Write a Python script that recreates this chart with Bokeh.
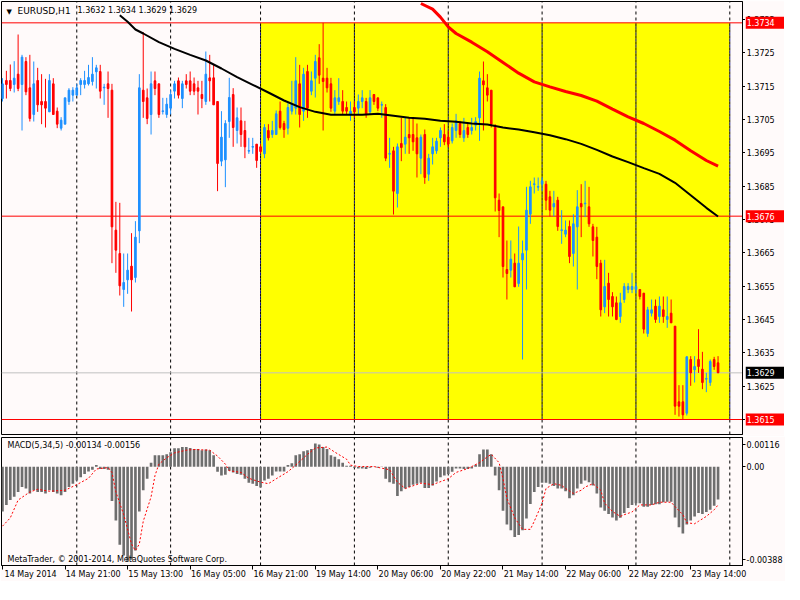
from bokeh.plotting import figure
from bokeh.layouts import column, row
from bokeh.models import Range1d, FixedTicker, Label, LinearAxis
from bokeh.core.properties import value
from bokeh.embed import file_html
from bokeh.resources import INLINE

# ---------------- data (EURUSD H1, bar index 0 = 14 May 2014 05:00) ----------------
open_ = [1.37113,1.37167,1.37167,1.37155,1.37186,1.37155,1.37224,1.37145,1.37065,1.37167,
1.37104,1.37104,1.37073,1.37157,1.37075,1.37024,1.37036,1.37104,1.37123,1.37123,
1.37155,1.37155,1.37157,1.37164,1.37193,1.37194,1.37145,1.37157,1.37138,1.36718,
1.36648,1.36540,1.36569,1.36610,1.36576,1.36716,1.37138,1.37115,1.37065,1.37166,
1.37157,1.37074,1.37065,1.37084,1.37135,1.37166,1.37113,1.37166,1.37166,1.37157,
1.37145,1.37125,1.37104,1.37175,1.37175,1.37104,1.36925,1.36929,1.37044,1.37125,
1.37017,1.37046,1.37017,1.36955,1.36967,1.36976,1.36968,1.36947,1.37017,1.37005,
1.37005,1.37075,1.37038,1.37024,1.37075,1.37084,1.37157,1.37075,1.37194,1.37135,
1.37174,1.37235,1.37174,1.37174,1.37157,1.37075,1.37104,1.37104,1.37086,1.37063,
1.37086,1.37084,1.37104,1.37104,1.37073,1.37125,1.37115,1.37093,1.37086,1.36946,
1.36956,1.36828,1.36978,1.36976,1.37005,1.37005,1.36995,1.36934,1.37005,1.36886,
1.36947,1.36956,1.36995,1.37005,1.36997,1.36986,1.37017,1.37038,1.36995,1.37026,
1.37017,1.37033,1.37055,1.37166,1.37145,1.37138,1.37026,1.36808,1.36788,1.36600,
1.36598,1.36619,1.36558,1.36629,1.36658,1.36766,1.36855,1.36847,1.36856,1.36856,
1.36818,1.36788,1.36808,1.36717,1.36706,1.36729,1.36648,1.36728,1.36798,1.36797,
1.36788,1.36728,1.36697,1.36619,1.36488,1.36559,1.36519,1.36500,1.36459,1.36510,
1.36540,1.36540,1.36540,1.36540,1.36529,1.36408,1.36469,1.36490,1.36459,1.36479,
1.36450,1.36469,1.36430,1.36203,1.36203,1.36169,1.36330,1.36299,1.36330,1.36301,
1.36271,1.36261,1.36330,1.36320]
high_ = [1.37174,1.37196,1.37215,1.37225,1.37305,1.37244,1.37237,1.37244,1.37224,1.37205,
1.37186,1.37172,1.37186,1.37174,1.37086,1.37057,1.37115,1.37144,1.37147,1.37157,
1.37174,1.37196,1.37214,1.37237,1.37214,1.37214,1.37157,1.37194,1.37157,1.36803,
1.36800,1.36648,1.36648,1.36709,1.36745,1.37186,1.37312,1.37143,1.37194,1.37194,
1.37157,1.37115,1.37115,1.37138,1.37166,1.37176,1.37166,1.37186,1.37194,1.37176,
1.37166,1.37166,1.37254,1.37244,1.37214,1.37104,1.37075,1.37048,1.37175,1.37144,
1.37086,1.37086,1.37046,1.36995,1.36995,1.36976,1.36976,1.37036,1.37036,1.37046,
1.37077,1.37104,1.37046,1.37099,1.37166,1.37237,1.37214,1.37205,1.37214,1.37194,
1.37244,1.37276,1.37340,1.37205,1.37175,1.37138,1.37174,1.37138,1.37104,1.37104,
1.37104,1.37125,1.37138,1.37115,1.37138,1.37125,1.37115,1.37104,1.37096,1.36995,
1.36968,1.36978,1.37055,1.37057,1.37055,1.37055,1.37038,1.37005,1.37020,1.36947,
1.36995,1.36995,1.37026,1.37036,1.37017,1.37038,1.37067,1.37046,1.37055,1.37038,
1.37055,1.37057,1.37194,1.37224,1.37186,1.37138,1.37036,1.36828,1.36788,1.36687,
1.36687,1.36648,1.36729,1.36687,1.36848,1.36866,1.36876,1.36876,1.36876,1.36866,
1.36836,1.36836,1.36818,1.36778,1.36747,1.36747,1.36766,1.36838,1.36856,1.36866,
1.36848,1.36737,1.36728,1.36629,1.36629,1.36590,1.36532,1.36519,1.36530,1.36559,
1.36559,1.36590,1.36561,1.36540,1.36529,1.36488,1.36510,1.36510,1.36519,1.36519,
1.36519,1.36510,1.36430,1.36253,1.36253,1.36340,1.36340,1.36340,1.36421,1.36353,
1.36290,1.36330,1.36338,1.36340]
low_ = [1.37104,1.37113,1.37135,1.37131,1.37135,1.37017,1.37123,1.37044,1.37044,1.37073,
1.37036,1.37026,1.37073,1.37065,1.37024,1.37017,1.37036,1.37094,1.37104,1.37123,
1.37123,1.37143,1.37152,1.37152,1.37143,1.37113,1.37094,1.37055,1.36619,1.36590,
1.36522,1.36488,1.36527,1.36474,1.36561,1.36679,1.37055,1.37036,1.37005,1.37123,
1.37055,1.37065,1.37055,1.37065,1.37113,1.37113,1.37084,1.37143,1.37123,1.37123,
1.37065,1.37084,1.37094,1.37104,1.37094,1.36835,1.36910,1.36847,1.36995,1.36968,
1.36978,1.36968,1.36934,1.36947,1.36947,1.36905,1.36947,1.36934,1.36987,1.36995,
1.37005,1.37020,1.36995,1.37005,1.37065,1.37065,1.37026,1.37046,1.37055,1.37123,
1.37116,1.37157,1.37017,1.37131,1.37073,1.37065,1.37094,1.37065,1.37065,1.37046,
1.37055,1.37065,1.37084,1.37055,1.37065,1.37094,1.37075,1.37055,1.36925,1.36905,
1.36765,1.36786,1.36925,1.36947,1.36947,1.36956,1.36876,1.36886,1.36857,1.36866,
1.36915,1.36947,1.36968,1.36973,1.36966,1.36978,1.36995,1.36995,1.36983,1.36995,
1.37005,1.37017,1.36986,1.37017,1.37104,1.37026,1.36774,1.36697,1.36576,1.36510,
1.36576,1.36548,1.36548,1.36330,1.36540,1.36737,1.36828,1.36836,1.36836,1.36778,
1.36759,1.36759,1.36716,1.36677,1.36697,1.36619,1.36609,1.36540,1.36697,1.36757,
1.36728,1.36639,1.36571,1.36459,1.36469,1.36459,1.36459,1.36448,1.36440,1.36500,
1.36529,1.36529,1.36529,1.36510,1.36408,1.36398,1.36459,1.36440,1.36440,1.36440,
1.36425,1.36440,1.36164,1.36159,1.36150,1.36162,1.36251,1.36261,1.36290,1.36241,
1.36232,1.36251,1.36299,1.36290]
close_ = [1.37157,1.37155,1.37143,1.37174,1.37143,1.37237,1.37133,1.37053,1.37157,1.37094,
1.37094,1.37084,1.37167,1.37065,1.37036,1.37048,1.37115,1.37138,1.37138,1.37145,
1.37167,1.37167,1.37176,1.37186,1.37205,1.37135,1.37147,1.37143,1.36728,1.36658,
1.36551,1.36561,1.36598,1.36569,1.36697,1.37145,1.37104,1.37053,1.37157,1.37143,
1.37065,1.37076,1.37096,1.37125,1.37157,1.37123,1.37157,1.37155,1.37135,1.37135,
1.37135,1.37113,1.37186,1.37166,1.37094,1.36918,1.36997,1.37038,1.37116,1.37026,
1.37055,1.37005,1.36968,1.36957,1.36969,1.36927,1.36954,1.37026,1.36995,1.37017,
1.37067,1.37026,1.37020,1.37086,1.37096,1.37166,1.37065,1.37186,1.37084,1.37166,
1.37224,1.37183,1.37164,1.37145,1.37084,1.37115,1.37115,1.37075,1.37075,1.37075,
1.37073,1.37104,1.37115,1.37065,1.37115,1.37104,1.37084,1.37095,1.36934,1.36948,
1.36835,1.36968,1.36966,1.36997,1.36995,1.36983,1.36947,1.36997,1.36876,1.36934,
1.36968,1.36985,1.37017,1.36983,1.36976,1.37026,1.37046,1.37005,1.37017,1.37005,
1.37026,1.37044,1.37174,1.37154,1.37123,1.37036,1.36815,1.36777,1.36609,1.36588,
1.36631,1.36548,1.36619,1.36648,1.36778,1.36848,1.36857,1.36849,1.36866,1.36808,
1.36778,1.36798,1.36729,1.36719,1.36718,1.36639,1.36737,1.36788,1.36788,1.36799,
1.36737,1.36687,1.36609,1.36479,1.36549,1.36510,1.36488,1.36450,1.36500,1.36549,
1.36549,1.36549,1.36549,1.36519,1.36421,1.36479,1.36479,1.36450,1.36490,1.36459,
1.36459,1.36440,1.36190,1.36190,1.36164,1.36338,1.36290,1.36309,1.36309,1.36261,
1.36273,1.36324,1.36309,1.36290]

# moving averages (bar index, price)
ma_black_bar = [30,32,34,36,40,44,48,52,56,60,64,68,72,76,80,84,88,92,96,100,104,108,112,116,120,
                124,128,132,136,140,144,148,152,156,160,164,168,172,176,180,183]
ma_black_val = [1.37363,1.37343,1.37320,1.37308,1.37282,1.37262,1.37244,1.37227,1.37203,1.37177,
                1.37154,1.37131,1.37107,1.37087,1.37073,1.37064,1.37064,1.37064,1.37067,1.37061,
                1.37055,1.37052,1.37046,1.37043,1.37038,1.37035,1.37026,1.37020,1.37012,1.37003,
                1.36991,1.36977,1.36959,1.36939,1.36922,1.36904,1.36887,1.36860,1.36823,1.36785,1.36759]
ma_red_bar = [107,110,112,114,116,120,124,128,132,136,140,144,148,152,156,160,164,168,172,176,180,183]
ma_red_val = [1.37398,1.37381,1.37357,1.37328,1.37308,1.37282,1.37253,1.37221,1.37189,1.37163,
              1.37148,1.37134,1.37122,1.37105,1.37081,1.37058,1.37038,1.37014,1.36988,1.36956,
              1.36927,1.36910]

# MACD(5,34,5) main (histogram) per bar
macd_hist = [-0.00183,-0.00156,-0.00136,-0.00123,-0.00103,-0.00083,-0.00089,-0.00109,-0.00096,-0.00103,
-0.00103,-0.00109,-0.00096,-0.00103,-0.00109,-0.00116,-0.00103,-0.00083,-0.00069,-0.00056,
-0.00043,-0.00029,-0.00019,-0.00012,0.00007,-0.00009,-0.00009,-0.00012,-0.00140,-0.00220,
-0.00319,-0.00363,-0.00388,-0.00380,-0.00343,-0.00183,-0.00096,-0.00049,0.00017,0.00047,
0.00047,0.00047,0.00051,0.00060,0.00076,0.00076,0.00081,0.00081,0.00077,0.00073,
0.00073,0.00068,0.00071,0.00068,0.00047,-0.00020,-0.00036,-0.00033,-0.00016,-0.00023,
-0.00029,-0.00033,-0.00049,-0.00065,-0.00069,-0.00079,-0.00085,-0.00056,-0.00049,-0.00036,
-0.00019,-0.00019,-0.00019,0.00007,0.00015,0.00047,0.00051,0.00064,0.00068,0.00073,
0.00095,0.00091,0.00081,0.00073,0.00047,0.00041,0.00031,0.00017,0.00004,0.00004,
-0.00004,-0.00007,-0.00007,-0.00009,-0.00004,-0.00001,-0.00004,-0.00001,-0.00049,-0.00063,
-0.00069,-0.00119,-0.00100,-0.00089,-0.00083,-0.00073,-0.00069,-0.00065,-0.00087,-0.00087,
-0.00076,-0.00060,-0.00043,-0.00036,-0.00029,-0.00020,-0.00007,-0.00007,-0.00009,-0.00009,
-0.00007,0.00008,0.00051,0.00071,0.00071,0.00051,-0.00036,-0.00096,-0.00180,-0.00236,
-0.00260,-0.00287,-0.00279,-0.00260,-0.00212,-0.00152,-0.00103,-0.00083,-0.00065,-0.00065,
-0.00069,-0.00079,-0.00089,-0.00089,-0.00100,-0.00129,-0.00116,-0.00089,-0.00069,-0.00056,
-0.00063,-0.00076,-0.00109,-0.00167,-0.00180,-0.00193,-0.00207,-0.00220,-0.00209,-0.00189,
-0.00169,-0.00156,-0.00149,-0.00149,-0.00163,-0.00163,-0.00156,-0.00153,-0.00153,-0.00145,
-0.00143,-0.00143,-0.00207,-0.00247,-0.00273,-0.00236,-0.00220,-0.00203,-0.00189,-0.00193,
-0.00185,-0.00176,-0.00159,-0.00134]
# signal line (bar index, value)
signal_bar = [0,2,4,7,9,12,16,19,22,24,27,28,29,31,33,34,35,36,38,39,40,42,44,47,49,53,55,57,58,61,
              63,66,68,70,73,75,78,80,83,85,88,89,91,95,99,101,103,104,107,110,114,116,119,122,124,
              125,127,128,129,131,133,135,136,138,139,141,143,144,146,148,149,151,153,154,156,158,
              159,161,163,164,166,168,171,172,174,175,177,178,180,182,183]
signal_val = [-0.00243,-0.00209,-0.00136,-0.00103,-0.00092,-0.00100,-0.00096,-0.00073,-0.00047,-0.00009,
              -0.00003,-0.00023,-0.00103,-0.00196,-0.00316,-0.00343,-0.00316,-0.00223,-0.00123,-0.00036,
              0.00011,0.00037,0.00057,0.00068,0.00071,0.00068,0.00044,0.00011,-0.00016,-0.00023,
              -0.00047,-0.00063,-0.00069,-0.00049,-0.00020,0.00007,0.00051,0.00077,0.00081,0.00060,
              0.00031,0.00007,0.00001,0.00001,-0.00012,-0.00063,-0.00089,-0.00083,-0.00067,-0.00073,
              -0.00049,-0.00023,-0.00007,0.00017,0.00041,0.00051,0.00017,-0.00049,-0.00129,-0.00209,
              -0.00256,-0.00256,-0.00223,-0.00149,-0.00089,-0.00069,-0.00076,-0.00089,-0.00109,-0.00096,
              -0.00083,-0.00069,-0.00096,-0.00149,-0.00183,-0.00203,-0.00196,-0.00185,-0.00156,-0.00156,
              -0.00156,-0.00145,-0.00145,-0.00163,-0.00196,-0.00229,-0.00233,-0.00223,-0.00203,-0.00176,
              -0.00156]

# axis ticks and labels
time_tick_bars = [0,16,32,48,64,80,96,112,128,144,160,176]
time_tick_labels = ["14 May 2014","14 May 21:00","15 May 13:00","16 May 05:00","16 May 21:00",
                    "19 May 14:00","20 May 06:00","20 May 22:00","21 May 14:00","22 May 06:00",
                    "22 May 22:00","23 May 14:00"]
day_separator_bars = [19,43,66,90,114,138,162,186]
price_ticks = [1.3735,1.3725,1.3715,1.3705,1.3695,1.3685,1.3675,1.3665,1.3655,1.3645,1.3635,1.3625,1.3615]

# drawn objects
zone_left_bar, zone_right_bar = 66, 186
zone_top, zone_bottom = 1.3734, 1.3615
red_levels = [1.3734, 1.3676, 1.3615]
bid_price = 1.3629
macd_max_label, macd_min_label = 0.00116, -0.00388
macd_main_now, macd_signal_now = -0.00134, -0.00156

# ---------------- styling / layout ----------------
BG = "#FFFAFA"
FONT = "DejaVu Sans"
FS = "8px"
BULL, BEAR = "#1E90FF", "#FF0000"

X_LO, X_HI = -0.25, 189.25
P_LO, P_HI = 1.36105, 1.37404
M_LO, M_HI = -0.00404, 0.00120
FW = 741
MAIN_H = 433
TICK_W = 3
SIDE_W = 39

bars = list(range(len(close_)))
cols = [BULL if c >= o else BEAR for o, c in zip(open_, close_)]
body_top = [max(o, c) for o, c in zip(open_, close_)]
body_bot = [min(o, c) for o, c in zip(open_, close_)]

main = figure(frame_width=FW, frame_height=MAIN_H, x_range=Range1d(X_LO, X_HI),
              y_range=Range1d(P_LO, P_HI), output_backend="svg", toolbar_location=None,
              x_axis_location=None, y_axis_location="right",
              min_border_left=1, min_border_right=TICK_W, min_border_top=1, min_border_bottom=2,
              background_fill_color=BG, border_fill_color=BG,
              outline_line_color="black", outline_line_alpha=1.0)
main.xgrid.visible = False
main.ygrid.visible = False

# yellow rectangle
main.quad(left=[zone_left_bar], right=[zone_right_bar], top=[zone_top], bottom=[zone_bottom],
          fill_color="#FFFF00", line_color=None)
# day separators
n = len(day_separator_bars)
main.segment(x0=day_separator_bars, y0=[P_LO]*n, x1=day_separator_bars, y1=[P_HI]*n,
             line_color="black", line_width=1, line_dash="3 3")
inside = [b for b in day_separator_bars if zone_left_bar <= b <= zone_right_bar]
main.segment(x0=inside, y0=[zone_bottom]*len(inside), x1=inside, y1=[zone_top]*len(inside),
             line_color="#000080", line_width=1, line_dash="3 3")
# horizontal levels
main.segment(x0=[X_LO]*len(red_levels), y0=red_levels, x1=[X_HI]*len(red_levels), y1=red_levels,
             line_color="#FF0000", line_width=1)
main.segment(x0=[X_LO], y0=[bid_price], x1=[X_HI], y1=[bid_price], line_color="#C0C0C0", line_width=1)

# candles
main.segment(x0=bars, y0=low_, x1=bars, y1=high_, line_color=cols, line_width=1)
main.vbar(x=bars, top=body_top, bottom=body_bot, width=0.42, fill_color=cols, line_color=cols, line_width=1)

# moving averages
main.line(ma_black_bar, ma_black_val, line_color="black", line_width=2)
main.line(ma_red_bar, ma_red_val, line_color="#FF0000", line_width=3)

# price scale: tick marks on the main axis, labels in the side strip
ya = main.yaxis[0]
ya.ticker = FixedTicker(ticks=price_ticks)
ya.major_label_overrides = {t: "" for t in price_ticks}
ya.major_tick_out = TICK_W
ya.major_tick_in = 0
ya.minor_tick_out = 0
ya.minor_tick_in = 0
ya.major_label_standoff = 0
ya.axis_line_color = "black"

# title
main.add_layout(Label(x=X_LO, y=P_HI, x_offset=5, y_offset=-6, text="\u25BC", text_font="DejaVu Sans",
                      text_font_size="7px", text_color="black", text_baseline="top"))
main.add_layout(Label(x=X_LO, y=P_HI, x_offset=16, y_offset=-4, text="EURUSD,H1", text_font=FONT,
                      text_font_size="9px", text_color="black", text_baseline="top"))
main.add_layout(Label(x=X_LO, y=P_HI, x_offset=76, y_offset=-4,
                      text="%.4f %.4f %.4f %.4f" % (open_[-1], high_[-1], low_[-1], close_[-1]),
                      text_font=FONT, text_font_size=FS, text_color="black", text_baseline="top"))

# side strip with the price labels and the coloured price boxes
side = figure(frame_width=SIDE_W, frame_height=MAIN_H, x_range=Range1d(0, 1), y_range=main.y_range,
              output_backend="svg", toolbar_location=None, x_axis_location=None, y_axis_location=None,
              min_border_left=0, min_border_right=0, min_border_top=1, min_border_bottom=2,
              background_fill_color=BG, border_fill_color=BG, outline_line_color=None)
side.xgrid.visible = False
side.ygrid.visible = False
side.text(x=[0.03]*len(price_ticks), y=price_ticks, text=["%.4f" % t for t in price_ticks],
          text_font=value(FONT), text_font_size=value(FS), text_color="black", text_baseline="middle")
side.rect(x=[0.5]*len(red_levels), y=red_levels, width=1.0, height=12, height_units="screen",
          fill_color="#FF0000", line_color=None)
side.text(x=[0.03]*len(red_levels), y=red_levels, text=["%.4f" % v for v in red_levels],
          text_font=value(FONT), text_font_size=value(FS), text_color="white", text_baseline="middle")
side.rect(x=[0.5], y=[bid_price], width=1.0, height=12, height_units="screen",
          fill_color="black", line_color=None)
side.text(x=[0.03], y=[bid_price], text=["%.4f" % bid_price],
          text_font=value(FONT), text_font_size=value(FS), text_color="white", text_baseline="middle")

# ---------------- MACD panel ----------------
macd = figure(frame_width=FW, frame_height=128, x_range=main.x_range, y_range=Range1d(M_LO, M_HI),
              output_backend="svg", toolbar_location=None, y_axis_location="right",
              min_border_left=1, min_border_right=SIDE_W + TICK_W, min_border_top=1, min_border_bottom=0,
              background_fill_color=BG, border_fill_color=BG, outline_line_color="black")
macd.xgrid.visible = False
macd.ygrid.visible = False
macd.segment(x0=day_separator_bars, y0=[M_LO]*n, x1=day_separator_bars, y1=[M_HI]*n,
             line_color="black", line_width=1, line_dash="3 3")
macd.vbar(x=bars, top=macd_hist, bottom=0, width=0.68, fill_color="#6E6E6E", line_color=None)
macd.line(signal_bar, signal_val, line_color="#FF0000", line_width=1, line_dash="2 2")

px_per_unit = 128 / (M_HI - M_LO)
shift = 6 / px_per_unit
top_tick, bot_tick = macd_max_label - shift, macd_min_label + shift * 0.3
my = macd.yaxis[0]
my.ticker = FixedTicker(ticks=[top_tick, 0.0, bot_tick])
my.major_label_overrides = {top_tick: "%.5f" % macd_max_label, 0.0: "0.00", bot_tick: "%.5f" % macd_min_label}
my.major_label_text_font = FONT
my.major_label_text_font_size = FS
my.major_label_text_color = "black"
my.major_tick_out = TICK_W
my.major_tick_in = 0
my.minor_tick_out = 0
my.minor_tick_in = 0
my.major_label_standoff = 1
my.axis_line_color = "black"

# time axis: tick marks at the bars, labels written to the right of each tick
xa = macd.xaxis[0]
xa.ticker = FixedTicker(ticks=time_tick_bars)
xa.major_label_overrides = {t: "" for t in time_tick_bars}
xa.major_tick_out = 4
xa.major_tick_in = 0
xa.minor_tick_out = 0
xa.minor_tick_in = 0
xa.major_label_standoff = 0
xa.axis_line_color = "black"

label_shift = 7.2  # half a label width, in bars
lab_ticks = [b + label_shift for b in time_tick_bars]
xl = LinearAxis(ticker=FixedTicker(ticks=lab_ticks),
                major_label_overrides=dict(zip(lab_ticks, time_tick_labels)))
xl.major_label_text_font = FONT
xl.major_label_text_font_size = FS
xl.major_label_text_color = "black"
xl.major_tick_out = 0
xl.major_tick_in = 0
xl.minor_tick_out = 0
xl.minor_tick_in = 0
xl.major_label_standoff = 0
xl.axis_line_color = None
macd.add_layout(xl, "below")

macd.add_layout(Label(x=X_LO, y=M_HI, x_offset=6, y_offset=-3,
                      text="MACD(5,34,5) %.5f %.5f" % (macd_main_now, macd_signal_now),
                      text_font=FONT, text_font_size=FS, text_color="black", text_baseline="top"))
macd.add_layout(Label(x=X_LO, y=M_LO, x_offset=6, y_offset=2,
                      text="MetaTrader, \u00a9 2001-2014, MetaQuotes Software Corp.",
                      text_font=FONT, text_font_size=FS, text_color="black", text_baseline="bottom"))

p = column(row(main, side, spacing=0), macd, spacing=0)
open("out.html", "w").write(file_html(p, INLINE))
